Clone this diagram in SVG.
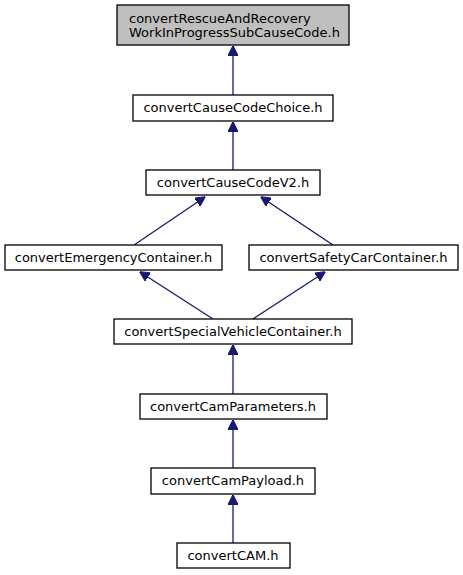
<svg xmlns="http://www.w3.org/2000/svg" width="463" height="575" viewBox="0 0 463 575">
<style>
.box{fill:#ffffff;stroke:#000000;stroke-width:1.3}
.root{fill:#bfbfbf;stroke:#000000;stroke-width:1.3}
text{font-family:"DejaVu Sans",Verdana,sans-serif;font-size:13px;fill:#000000}
.c{text-anchor:middle}
.edge{stroke:#191970;stroke-width:1.3;fill:none;marker-end:url(#ah)}
</style>
<defs>
<marker id="ah" markerWidth="10" markerHeight="10" refX="9.5" refY="5" orient="auto" markerUnits="userSpaceOnUse" viewBox="0 0 10 10">
<path d="M0,0 L10,5 L0,10 Z" fill="#191970" stroke="#191970" stroke-width="1"/>
</marker>
</defs>
<rect width="463" height="575" fill="#ffffff"/>
<g id="connectors">
<line class="edge" x1="233" y1="95" x2="233" y2="46"/>
<line class="edge" x1="233" y1="170" x2="233" y2="122"/>
<line class="edge" x1="134" y1="245" x2="205" y2="197"/>
<line class="edge" x1="333" y1="245" x2="261" y2="197"/>
<line class="edge" x1="213" y1="319" x2="140" y2="272"/>
<line class="edge" x1="253" y1="319" x2="325" y2="272"/>
<line class="edge" x1="233" y1="394" x2="233" y2="345"/>
<line class="edge" x1="233" y1="468" x2="233" y2="420"/>
<line class="edge" x1="233" y1="543" x2="233" y2="495"/>
</g>
<g id="n_rescue">
<rect class="root" x="117" y="5" width="232" height="40"/>
<text x="129" y="23">convertRescueAndRecovery</text>
<text x="129" y="37">WorkInProgressSubCauseCode.h</text>
</g>
<g id="n_choice">
<rect class="box" x="133" y="95" width="200" height="26"/>
<text class="c" x="233" y="112">convertCauseCodeChoice.h</text>
</g>
<g id="n_v2">
<rect class="box" x="146" y="170" width="174" height="25"/>
<text class="c" x="233" y="187">convertCauseCodeV2.h</text>
</g>
<g id="n_emergency">
<rect class="box" x="5" y="245" width="217" height="25"/>
<text class="c" x="113.5" y="262">convertEmergencyContainer.h</text>
</g>
<g id="n_safety">
<rect class="box" x="249" y="245" width="209" height="25"/>
<text class="c" x="353.5" y="262">convertSafetyCarContainer.h</text>
</g>
<g id="n_special">
<rect class="box" x="114" y="319" width="238" height="25"/>
<text class="c" x="233" y="336">convertSpecialVehicleContainer.h</text>
</g>
<g id="n_params">
<rect class="box" x="140" y="394" width="187" height="25"/>
<text class="c" x="233" y="411">convertCamParameters.h</text>
</g>
<g id="n_payload">
<rect class="box" x="151" y="468" width="164" height="26"/>
<text class="c" x="233" y="485">convertCamPayload.h</text>
</g>
<g id="n_cam">
<rect class="box" x="177" y="543" width="113" height="25"/>
<text class="c" x="233" y="560">convertCAM.h</text>
</g>
</svg>
